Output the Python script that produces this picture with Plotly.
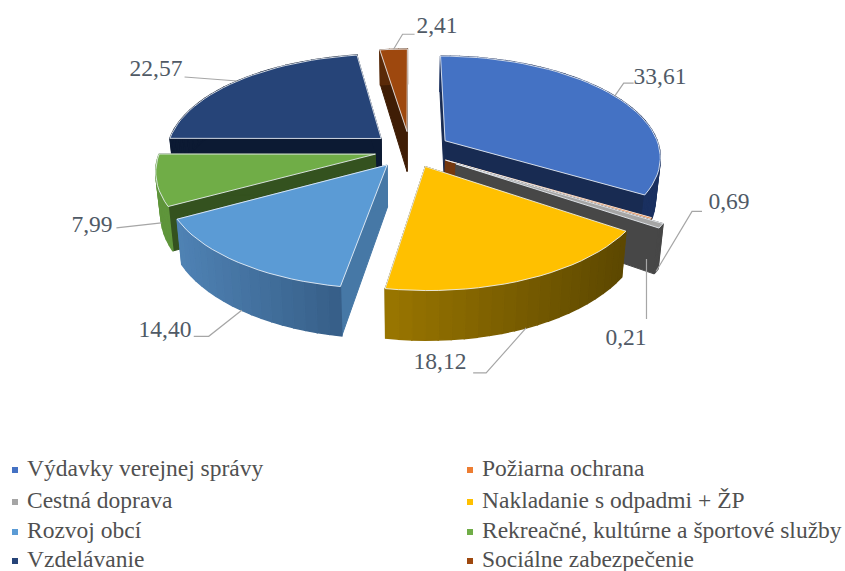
import math
import plotly.graph_objects as go

# Data
categories = ["Výdavky verejnej správy", "Požiarna ochrana", "Cestná doprava",
              "Nakladanie s odpadmi + ŽP", "Rozvoj obcí",
              "Rekreačné, kultúrne a športové služby", "Vzdelávanie", "Sociálne zabezpečenie"]
values = [33.61, 0.21, 0.69, 18.12, 14.40, 7.99, 22.57, 2.41]
value_labels = ["33,61", "0,21", "0,69", "18,12", "14,40", "7,99", "22,57", "2,41"]

# Styles
top_colors = ["#4472c4", "#ed7d31", "#a5a5a5", "#ffc000", "#5b9bd5", "#70ad47", "#264478", "#9e480e"]
legend_colors = top_colors
inner_colors = ["#182b52", "#74380f", "#474747", "#6b5200", "#4678a6", "#34521f", "#0c1a33", "#3f1d05"]
outer_left = ["#1a3060", "#74380f", "#474747", "#9a7600", "#4f82b4", "#5f953b", "#0c1a33", "#5a2a08"]
outer_right = ["#1a3060", "#74380f", "#474747", "#5c4700", "#365e87", "#5f953b", "#0c1a33", "#5a2a08"]
explode = [0.19, 0.19, 0.25, 0.175, 0.18, 0.165, 0.18, 0.19]
draw_order = [6, 7, 0, 1, 2, 5, 4, 3]

# Projection
CX, CY, RX, RY, P, H, BOTTOM = 410.0, 150.0, 215.0, 100.0, 0.15, 41.0, 0.98


def project(X, Y, z=0.0):
    w = 1 + P * Y
    s = 1 + (BOTTOM - 1) * z
    return CX + s * RX * X / w, CY - RY * Y / w + H * z / w


total = sum(values)
edges = [0.0]
for v in values:
    edges.append(edges[-1] + v / total * 2 * math.pi)


def world(i, t, r=1.0):
    mid = (edges[i] + edges[i + 1]) / 2
    e = explode[i]
    return e * math.sin(mid) + r * math.sin(t), e * math.cos(mid) + r * math.cos(t)


fig = go.Figure()


def poly(points, fill, line=None, width=1.0):
    fig.add_trace(go.Scatter(
        x=[p[0] for p in points] + [points[0][0]],
        y=[p[1] for p in points] + [points[0][1]],
        mode="lines", fill="toself", fillcolor=fill,
        line=dict(color=line or fill, width=width),
        hoverinfo="skip", showlegend=False))


def mix(c1, c2, f):
    a = [int(c1[k:k + 2], 16) for k in (1, 3, 5)]
    b = [int(c2[k:k + 2], 16) for k in (1, 3, 5)]
    return "#%02x%02x%02x" % tuple(round(a[k] + (b[k] - a[k]) * f) for k in range(3))


EDGE = "rgba(240,244,250,0.85)"
for i in draw_order:
    a, b = edges[i], edges[i + 1]
    n = max(2, int((b - a) / 0.05))
    ts = [a + (b - a) * k / n for k in range(n + 1)]
    apex = world(i, a, 0.0)
    # radial walls
    for t in (a, b):
        rim = world(i, t)
        poly([project(*apex), project(*rim), project(*rim, 1), project(*apex, 1)], inner_colors[i])
    # outer wall, as gradient strips running left to right on screen
    xa = min(project(*world(i, a))[0], project(*world(i, b))[0])
    xb = max(project(*world(i, a))[0], project(*world(i, b))[0])
    for k in range(n):
        t0, t1 = ts[k], ts[k + 1]
        q = [project(*world(i, t0)), project(*world(i, t1)),
             project(*world(i, t1), 1), project(*world(i, t0), 1)]
        xs = (q[0][0] + q[1][0]) / 2
        poly(q, mix(outer_left[i], outer_right[i], (xs - xa) / max(xb - xa, 1)), width=1.5)
    # top face
    top = [project(*apex)] + [project(*world(i, t)) for t in ts]
    poly(top, top_colors[i], line=EDGE, width=1)

# Leader lines and value labels: (z on wall, elbow offset, end offset, label x, label y)
label_layout = [
    (0.0, (9, -13), (19, -13), 660, 78),
    (0.9, (0, 30), (0, 60), 626, 339),
    (1.0, (36, -60), (46, -60), 729, 203),
    (1.0, (-40, 45), (-53, 45), 440, 363),
    (1.0, (-33, 26), (-48, 26), 165, 331),
    (1.0, (-45, 5), (-45, 5), 92, 226),
    (0.0, (-53, -4), (-53, -4), 156, 70),
    (0.0, (9, -15), (21, -15), 437, 27),
]
for i, (z, el, en, tx, ty) in enumerate(label_layout):
    mid = (edges[i] + edges[i + 1]) / 2
    ax, ay = project(*world(i, mid), z)
    fig.add_trace(go.Scatter(
        x=[ax, ax + el[0], ax + en[0]], y=[ay, ay + el[1], ay + en[1]],
        mode="lines", line=dict(color="#a6a6a6", width=1.2),
        hoverinfo="skip", showlegend=False))
    fig.add_trace(go.Scatter(
        x=[tx], y=[ty], mode="text", text=[value_labels[i]], textposition="middle center",
        textfont=dict(family="Liberation Serif", size=23.5, color="#505a66"),
        hoverinfo="skip", showlegend=False))

# Legend, two columns
legend_x = [15, 470]
legend_y = [470, 502, 532, 561]
for i, name in enumerate(categories):
    col, row = i % 2, i // 2
    fig.add_trace(go.Scatter(
        x=[legend_x[col]], y=[legend_y[row]], mode="markers",
        marker=dict(symbol="square", size=6, color=legend_colors[i]),
        hoverinfo="skip", showlegend=False))
    fig.add_trace(go.Scatter(
        x=[legend_x[col] + 12], y=[legend_y[row]], mode="text", text=[name],
        textposition="middle right", cliponaxis=False,
        textfont=dict(family="Liberation Serif", size=23.5, color="#505050"),
        hoverinfo="skip", showlegend=False))

fig.update_layout(
    width=845, height=571, margin=dict(l=0, r=0, t=0, b=0),
    paper_bgcolor="white", plot_bgcolor="white",
    xaxis=dict(range=[0, 845], visible=False, fixedrange=True),
    yaxis=dict(range=[571, 0], visible=False, fixedrange=True),
)
fig.write_html("out.html", config={"displayModeBar": False},
               post_script="document.body.style.margin='0';document.body.style.overflow='hidden';")
